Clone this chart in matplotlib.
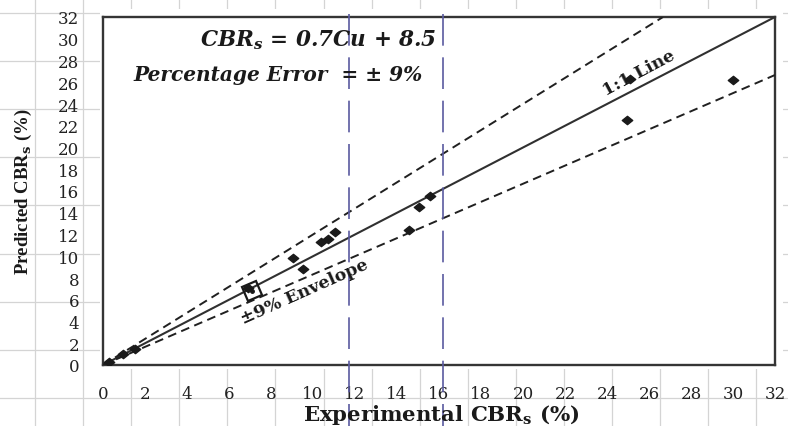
import matplotlib
matplotlib.use("Agg")
import matplotlib.pyplot as plt
from matplotlib.path import Path
from matplotlib.markers import MarkerStyle
from matplotlib.patches import Rectangle
from matplotlib.transforms import Affine2D

# Measured vs predicted CBR values (%)
experimental_cbr = [0.3, 0.95, 1.5, 6.9, 9.05, 9.5, 10.4, 10.7, 11.05,
                    14.55, 15.05, 15.55, 24.95, 25.1, 30.0]
predicted_cbr = [0.3, 1.0, 1.5, 7.1, 9.8, 8.85, 11.3, 11.6, 12.2,
                 12.45, 14.5, 15.5, 22.5, 26.3, 26.2]

# Highlighted observation inside the envelope
highlight_x = [7.1]
highlight_y = [6.8]

# Reference lines: 1:1 and the upper / lower envelope factors
envelope_factor = 1.2
axis_max = 32
ticks = list(range(0, 33, 2))
band_x = [11.7, 16.2]

plt.rcParams["mathtext.fontset"] = "custom"
plt.rcParams["mathtext.rm"] = "DejaVu Serif"
plt.rcParams["mathtext.it"] = "DejaVu Serif:italic:bold"
plt.rcParams["mathtext.bf"] = "DejaVu Serif:bold"

W, H = 788, 427
fig = plt.figure(figsize=(W / 100, H / 100), dpi=100)
fig.patch.set_facecolor("white")

# Sheet grid behind the chart
bg = fig.add_axes([0, 0, 1, 1])
bg.set_xlim(0, W)
bg.set_ylim(H, 0)
bg.axis("off")
grid_c = "#d4d4d4"
for k in range(16):
    gx = 35 + 48.1 * k
    bg.plot([gx, gx], [0, H], color=grid_c, lw=0.9, zorder=1)
for k in range(9):
    gy = 13.5 + 48.2 * k
    bg.plot([0, W], [gy, gy], color=grid_c, lw=0.9, zorder=1)
bg.add_patch(Rectangle((100, 10), 683, 360, facecolor="white",
                       edgecolor="none", zorder=2))

# Main plot area
x0, x1, ytop, ybot = 103, 775, 18, 366
ax = fig.add_axes([x0 / W, (H - ybot) / H, (x1 - x0) / W, (ybot - ytop) / H])
ax.set_zorder(3)
ax.patch.set_alpha(0)
ax.set_xlim(0, axis_max)
ax.set_ylim(0, axis_max)
for s in ax.spines.values():
    s.set_linewidth(1.7)
    s.set_color("#353535")
ax.set_xticks(ticks)
ax.set_yticks(ticks)
ax.set_xticklabels([str(t) for t in ticks], fontfamily="DejaVu Serif",
                   fontsize=12, color="#222222")
ax.set_yticklabels([str(t) for t in ticks], fontfamily="DejaVu Serif",
                   fontsize=12, color="#222222")
ax.tick_params(axis="x", length=0, pad=14.5)
ax.tick_params(axis="y", length=0, pad=17)

# 1:1 line and envelope
ax.plot([0, axis_max], [0, axis_max], color="#303030", lw=1.5, zorder=3)
ax.plot([0, axis_max / envelope_factor], [0, axis_max], color="#202020",
        lw=1.4, dashes=(4.5, 2.8), zorder=3)
ax.plot([0, axis_max], [0, axis_max / envelope_factor], color="#202020",
        lw=1.4, dashes=(4.5, 2.8), zorder=3)

# Vertical dashed band limits running through the axis labels
for bx in band_x:
    ax.plot([bx, bx], [32.3, -5.7], color="#5a5aa0", lw=1.2,
            dashes=(19, 7), clip_on=False, zorder=4)

# Data points as wide diamonds
diamond = Path([(-1.25, 0), (0, 1), (1.25, 0), (0, -1), (-1.25, 0)],
               [Path.MOVETO, Path.LINETO, Path.LINETO, Path.LINETO,
                Path.CLOSEPOLY])
ax.plot(experimental_cbr, predicted_cbr, linestyle="none", marker=diamond,
        markersize=7.5, color="#1a1a1a", zorder=5)
sq = MarkerStyle("s", fillstyle="none",
                 transform=Affine2D().rotate_deg(25))
ax.plot(highlight_x, highlight_y, linestyle="none", marker=sq,
        markersize=11, markeredgewidth=1.6, color="#1a1a1a", zorder=5)
ax.plot(highlight_x, highlight_y, linestyle="none", marker="o",
        markersize=2.5, color="#1a1a1a", zorder=5)

# Annotations
ax.text(4.62, 30.0, r"CBR$_{s}$ = 0.7Cu + 8.5", fontfamily="DejaVu Serif",
        fontweight="bold", fontstyle="italic", fontsize=15.5,
        ha="left", va="center", color="#1a1a1a", zorder=6)
ax.text(1.43, 26.75, "Percentage Error  = \u00b1 9%",
        fontfamily="DejaVu Serif", fontweight="bold", fontstyle="italic",
        fontsize=14.5, ha="left", va="center", color="#1a1a1a", zorder=6)
ax.text(25.5, 26.9, "1:1 Line", fontfamily="DejaVu Serif",
        fontweight="bold", fontsize=12.5, rotation=28,
        rotation_mode="anchor", ha="center", va="center",
        color="#1a1a1a", zorder=6)
ax.text(9.6, 6.75, "\u00b19% Envelope", fontfamily="DejaVu Serif",
        fontweight="bold", fontsize=12.5, rotation=24,
        rotation_mode="anchor", ha="center", va="center",
        color="#1a1a1a", zorder=6)

# Axis titles
fig.text(441 / W, 1 - 421 / H, r"Experimental CBR$_\mathbf{s}$ (%)",
         fontfamily="DejaVu Serif", fontweight="bold", fontsize=15.3,
         ha="center", va="baseline", color="#1a1a1a")
fig.text(23 / W, 1 - 192 / H, r"Predicted CBR$_\mathbf{s}$ (%)",
         fontfamily="Liberation Serif", fontweight="bold", fontsize=13.5,
         rotation=90, ha="center", va="center", color="#1a1a1a")

fig.savefig("out.png", dpi=100, facecolor="white")
